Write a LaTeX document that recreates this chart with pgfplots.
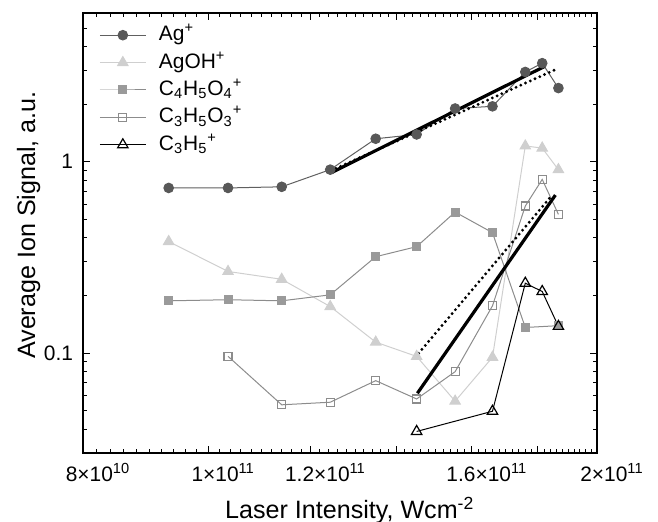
\documentclass[border=0pt]{standalone}
\usepackage{fontspec}
\setmainfont{Liberation Sans}
\usepackage{pgfplots}
\pgfplotsset{compat=1.18}
\definecolor{agc}{HTML}{585858}
\definecolor{agl}{HTML}{606060}
\definecolor{agoh}{HTML}{CFCFCF}
\definecolor{cfour}{HTML}{9A9A9A}
\definecolor{cfourl}{HTML}{8C8C8C}
\definecolor{cthree}{HTML}{8C8C8C}
\newcommand\tl{\fontsize{10.5}{12}\selectfont}
\newcommand\lb{\fontsize{12.6}{15}\selectfont}
\begin{document}
\begin{tikzpicture}
\begin{axis}[
  scale only axis, width=257bp, height=220bp,
  xmode=log, ymode=log,
  xmin=8, xmax=20, ymin=0.03, ymax=6,
  xtick={8,10,12,14,16,18,20},
  xticklabels={{\tl 8×10\textsuperscript{10}},{\tl 1×10\textsuperscript{11}},{\tl 1.2×10\textsuperscript{11}},,{\tl 1.6×10\textsuperscript{11}},,{\tl 2×10\textsuperscript{11}}},
  minor xtick={8.2,8.4,8.6,8.8,9,9.2,9.4,9.6,9.8,10.2,10.4,10.6,10.8,11,11.2,11.4,11.6,11.8,12.2,12.4,12.6,12.8,13,13.2,13.4,13.6,13.8,14.2,14.4,14.6,14.8,15,15.2,15.4,15.6,15.8,16.2,16.4,16.6,16.8,17,17.2,17.4,17.6,17.8,18.2,18.4,18.6,18.8,19,19.2,19.4,19.6,19.8},
  ytick={0.1,1},
  yticklabels={{\tl 0.1},{\tl 1}},
  minor ytick={0.03,0.04,0.05,0.06,0.07,0.08,0.09,0.2,0.3,0.4,0.5,0.6,0.7,0.8,0.9,2,3,4,5},
  tick align=inside,
  major tick length=3.6bp, minor tick length=2.2bp,
  tick style={black, line width=0.5bp},
  axis line style={line width=0.6bp},
  xticklabel style={anchor=base, yshift=-14bp, xshift=7.5bp},
  yticklabel style={xshift=-1.5bp},
  xlabel={\lb Laser Intensity, Wcm\textsuperscript{-2}},
  ylabel={\lb Average Ion Signal, a.u.},
  every axis x label/.style={at={(axis description cs:0.519,-0.148)}, anchor=base},
  every axis y label/.style={at={(axis description cs:-0.0934,0.518)}, rotate=90, anchor=base},
  legend style={at={(axis description cs:0.031,0.978)}, anchor=north west, draw=none, fill=none,
    inner sep=0pt, font=\fontsize{10.5}{12}\selectfont, column sep=6.3bp, row sep=1.6bp,
    nodes={inner sep=0pt, text height=8.8bp, text depth=3.3bp}},
  legend cell align=left,
  legend image code/.code={\draw[mark repeat=2,mark phase=2] plot coordinates {(0bp,0bp) (11.5bp,0bp) (23bp,0bp)};},
]
\addplot[agl, line width=0.5bp, mark=*, mark size=2.4bp, mark options={fill=agc, draw=agc}] coordinates {
(9.32,0.73) (10.36,0.73) (11.40,0.74) (12.43,0.91) (13.48,1.32) (14.50,1.39) (15.53,1.90) (16.60,1.95) (17.60,2.95) (18.14,3.28) (18.67,2.43)};
\addlegendentry{Ag\textsuperscript{+}}
\addplot[agoh, line width=0.5bp, mark=triangle*, mark size=3bp, mark options={fill=agoh, draw=agoh}] coordinates {
(9.32,0.383) (10.36,0.267) (11.40,0.243) (12.43,0.175) (13.48,0.114) (14.50,0.096) (15.53,0.056) (16.60,0.095) (17.60,1.21) (18.14,1.18) (18.67,0.91)};
\addlegendentry{AgOH\textsuperscript{+}}
\addplot[cfourl, line width=0.5bp, mark=square*, mark size=2bp, mark options={fill=cfour, draw=cfour}] coordinates {
(9.32,0.1875) (10.36,0.190) (11.40,0.1875) (12.43,0.2015) (13.48,0.319) (14.50,0.360) (15.53,0.546) (16.60,0.426) (17.60,0.136) (18.67,0.139)};
\addlegendentry{C\textsubscript{4}H\textsubscript{5}O\textsubscript{4}\textsuperscript{+}}
\addplot[cthree, line width=0.5bp, mark=square, mark size=2bp, mark options={fill=white, draw=cthree, line width=0.6bp}] coordinates {
(10.36,0.0961) (11.40,0.0536) (12.43,0.0553) (13.48,0.0717) (14.50,0.0575) (15.53,0.0799) (16.60,0.1766) (17.60,0.587) (18.14,0.809) (18.67,0.531)};
\addlegendentry{C\textsubscript{3}H\textsubscript{5}O\textsubscript{3}\textsuperscript{+}}
\addplot[black, line width=0.5bp, mark=triangle, mark size=3bp, mark options={fill=white, draw=black, line width=0.6bp}] coordinates {
(14.50,0.0389) (16.60,0.0496) (17.60,0.2318) (18.14,0.2098) (18.67,0.1378)};
\addlegendentry{C\textsubscript{3}H\textsubscript{5}\textsuperscript{+}}
% fit lines
\addplot[forget plot, black, line width=1.6bp, dash pattern=on 0bp off 2.6bp, line cap=round] coordinates {(12.45,0.90) (18.56,3.03)};
\addplot[forget plot, black, line width=1.6bp] coordinates {(12.45,0.876) (18.22,3.156)};
\addplot[forget plot, black, line width=1.6bp, dash pattern=on 0bp off 2.6bp, line cap=round] coordinates {(14.55,0.0996) (18.39,0.649)};
\addplot[forget plot, black, line width=1.6bp] coordinates {(14.52,0.0616) (18.57,0.670)};
\end{axis}
\pgfresetboundingbox
\path (current axis.south west) ++(-41.5bp,-34.5bp) coordinate (bbA);
\path (current axis.north east) ++(30.5bp,6.5bp) coordinate (bbB);
\path[use as bounding box] (bbA) rectangle (bbB);
\end{tikzpicture}
\end{document}
